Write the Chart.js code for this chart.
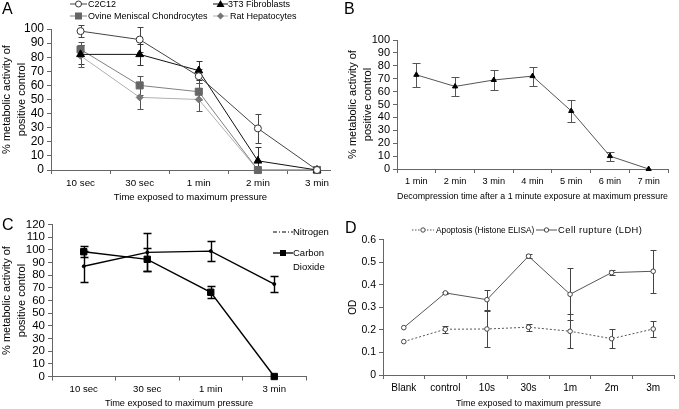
<!DOCTYPE html>
<html>
<head>
<meta charset="utf-8">
<script src="https://cdn.jsdelivr.net/npm/chart.js@4.4.1/dist/chart.umd.min.js"></script>
<style>
  html, body { margin: 0; padding: 0; background: #fff; }
  #wrap { position: relative; width: 679px; height: 409px; overflow: hidden; font-family: "Liberation Sans", Arial, sans-serif; color: #000; }
  canvas { position: absolute; left: 0; top: 0; }
  .letter { position: absolute; font-size: 16px; line-height: 16px; }
  .leg { position: absolute; height: 10px; font-size: 9px; line-height: 10px; white-space: nowrap; display: flex; align-items: center; }
  .leg svg { display: block; }
  .txt { position: absolute; height: 10px; font-size: 9.5px; line-height: 10px; white-space: nowrap; }
</style>
</head>
<body>
<div id="wrap">
  <canvas id="chartA" width="679" height="409"></canvas>
  <canvas id="chartB" width="679" height="409"></canvas>
  <canvas id="chartC" width="679" height="409"></canvas>
  <canvas id="chartD" width="679" height="409"></canvas>

  <div class="letter" style="left:2px;top:1px">A</div>
  <div class="letter" style="left:344px;top:1px">B</div>
  <div class="letter" style="left:2px;top:217px">C</div>
  <div class="letter" style="left:345px;top:220px">D</div>

  <!-- legend A -->
  <div class="leg" style="left:70px;top:-1px"><svg width="17" height="10"><line x1="0" y1="5" x2="17" y2="5" stroke="#444"/><circle cx="8.5" cy="5" r="3" fill="#fff" stroke="#333"/></svg><span style="margin-left:1px">C2C12</span></div>
  <div class="leg" style="left:213px;top:-1px"><svg width="15" height="10"><line x1="0" y1="5" x2="15" y2="5" stroke="#111"/><polygon points="7.5,1 11.5,8 3.5,8" fill="#000"/></svg><span>3T3 Fibroblasts</span></div>
  <div class="leg" style="left:70px;top:11px"><svg width="17" height="10"><line x1="0" y1="5" x2="17" y2="5" stroke="#808080"/><rect x="5" y="1.5" width="7" height="7" fill="#666"/></svg><span style="margin-left:1px">Ovine Meniscal Chondrocytes</span></div>
  <div class="leg" style="left:213px;top:11px"><svg width="15" height="10"><line x1="0" y1="5" x2="15" y2="5" stroke="#b0b0b0"/><polygon points="7.5,1.5 11,5 7.5,8.5 4,5" fill="#777"/></svg><span style="margin-left:2px">Rat Hepatocytes</span></div>

  <!-- legend C -->
  <div class="leg" style="left:273px;top:227px;font-size:9.5px"><svg width="20" height="10"><line x1="0" y1="5" x2="20" y2="5" stroke="#000" stroke-dasharray="4,2,1,2"/></svg><span>Nitrogen</span></div>
  <div class="leg" style="left:273px;top:248px"><svg width="20" height="10"><line x1="0" y1="5" x2="20" y2="5" stroke="#000" stroke-width="1.3"/><rect x="7" y="2" width="6" height="6" fill="#000"/></svg></div>
  <div class="txt" style="left:293px;top:248px">Carbon</div>
  <div class="txt" style="left:293px;top:262px">Dioxide</div>

  <!-- legend D -->
  <div class="leg" style="left:412px;top:225px;font-size:8.3px"><svg width="22" height="10"><line x1="0" y1="5" x2="22" y2="5" stroke="#555" stroke-dasharray="1.5,1.5"/><circle cx="11" cy="5" r="2.2" fill="#fff" stroke="#444"/></svg><span style="margin-left:2px">Apoptosis (Histone ELISA)</span></div>
  <div class="leg" style="left:536px;top:225px;font-size:9.3px"><svg width="21" height="10"><line x1="0" y1="5" x2="21" y2="5" stroke="#555"/><circle cx="10.5" cy="5" r="2.2" fill="#fff" stroke="#444"/></svg><span style="margin-left:1px;letter-spacing:0.5px">Cell rupture (LDH)</span></div>
</div>

<script>
// ---- panel A: cell types, time at max pressure ----
const timesA = ['10 sec', '30 sec', '1 min', '2 min', '3 min'];
const c2c12 = [98.5, 92.5, 66.5, 29.5, 0];
const c2c12Err = [4, 9, 5, 10, 0];
const fibro3t3 = [82, 82, 70.5, 6.5, 0];
const fibro3t3Err = [7, 7.5, 7, 10, 0];
const ovine = [85.5, 60, 55.5, 0, 0];
const ovineErr = [5, 7, 6, 0, 0];
const ratHep = [81, 51.5, 50, 0, 0];
const ratHepErr = [8, 8.5, 8.5, 0, 0];

// ---- panel B: decompression time ----
const decompTimes = ['1 min', '2 min', '3 min', '4 min', '5 min', '6 min', '7 min'];
const decompActivity = [73, 64, 69, 72, 45, 10, 0];
const decompErr = [9.2, 7.7, 7.7, 7.3, 8.6, 3.5, 0];

// ---- panel C: gas type ----
const timesC = ['10 sec', '30 sec', '1 min', '3 min'];
const nitrogen = [87, 98, 99, 73];
const nitrogenErr = [12, 15, 8, 6.6];
const co2 = [98.5, 92.5, 66.5, 0];
const co2Err = [4.5, 9, 4.8, 0];

// ---- panel D: OD ----
const timesD = ['Blank', 'control', '10s', '30s', '1m', '2m', '3m'];
const apoptosis = [0.148, 0.203, 0.204, 0.212, 0.194, 0.161, 0.204];
const apoptosisErr = [0, 0.016, 0.08, 0.015, 0.075, 0.042, 0.036];
const rupture = [0.21, 0.364, 0.334, 0.527, 0.358, 0.454, 0.46];
const ruptureErr = [0, 0.005, 0.045, 0.008, 0.115, 0.012, 0.095];

const FONT = '"Liberation Sans", Arial, sans-serif';
const AXIS = '#666';
const yTitle2 = ['% metabolic activity of', 'positive control'];

// error bars, drawn under the markers
const errorBars = {
  id: 'errorBars',
  beforeDatasetsDraw(chart) {
    const ctx = chart.ctx;
    const yScale = chart.scales.y;
    const area = chart.chartArea;
    ctx.save();
    ctx.beginPath();
    ctx.rect(area.left - 10, area.top - 20, area.right - area.left + 20, area.bottom - area.top + 20);
    ctx.clip();
    chart.data.datasets.forEach((ds, i) => {
      if (!ds.errors) return;
      const meta = chart.getDatasetMeta(i);
      ctx.strokeStyle = ds.errorColor || '#444';
      ctx.lineWidth = ds.errorWidth || 1;
      meta.data.forEach((pt, j) => {
        const err = ds.errors[j];
        if (!err) return;
        const raw = ds.data[j];
        const v = typeof raw === 'object' ? raw.y : raw;
        const top = Math.round(yScale.getPixelForValue(v + err)) + 0.5;
        const bot = Math.min(Math.round(yScale.getPixelForValue(v - err)) + 0.5, area.bottom);
        const x = Math.round(pt.x) + 0.5;
        const cap = ds.capWidth || 3;
        ctx.beginPath();
        ctx.moveTo(x, top); ctx.lineTo(x, bot);
        ctx.moveTo(x - cap, top); ctx.lineTo(x + cap, top);
        if (bot < area.bottom) { ctx.moveTo(x - cap, bot); ctx.lineTo(x + cap, bot); }
        ctx.stroke();
      });
    });
    ctx.restore();
  }
};

function yScale(min, max, step, size, title, titlePad, width, fmt) {
  return {
    min: min, max: max,
    ticks: { stepSize: step, autoSkip: false, font: { size: size, family: FONT }, color: '#000', padding: 3, callback: fmt },
    grid: { display: true, drawOnChartArea: false, color: AXIS, tickLength: 4 },
    border: { color: AXIS },
    title: { display: true, text: title, color: '#000', font: { size: 11, family: FONT, lineHeight: 1.35 }, padding: { top: titlePad, bottom: 0 } },
    afterFit: s => { s.width = width; }
  };
}

function xCategory(size, title, titleSize, height) {
  return {
    type: 'category', offset: true,
    ticks: { autoSkip: false, maxRotation: 0, font: { size: size, family: FONT }, color: '#000', padding: 3 },
    grid: { display: true, offset: true, drawOnChartArea: false, color: AXIS, tickLength: 4 },
    border: { color: AXIS },
    title: { display: true, text: title, color: '#000', font: { size: titleSize, family: FONT }, padding: { top: 0, bottom: 0 } },
    afterFit: s => { s.height = height; }
  };
}

function baseOptions(padding, scales) {
  return {
    responsive: false,
    animation: false,
    layout: { padding: padding },
    plugins: { legend: { display: false }, tooltip: { enabled: false } },
    scales: scales
  };
}

function lineSet(label, values, errors, style) {
  return Object.assign({
    label: label, data: values, errors: errors,
    borderWidth: 1, pointBorderWidth: 1, tension: 0, clip: false
  }, style);
}

const pts = arr => arr.map((v, i) => ({ x: i, y: v }));

// Panel A (linear x so the points sit where the original puts them)
new Chart(document.getElementById('chartA'), {
  type: 'line',
  data: {
    datasets: [
      lineSet('C2C12', pts(c2c12), c2c12Err, { borderColor: '#444', pointStyle: 'circle', pointRadius: 3.5, pointBackgroundColor: '#fff', pointBorderColor: '#333', errorColor: '#444' }),
      lineSet('3T3 Fibroblasts', pts(fibro3t3), fibro3t3Err, { borderColor: '#111', pointStyle: 'triangle', pointRadius: 4.5, pointBackgroundColor: '#000', pointBorderColor: '#000', errorColor: '#333' }),
      lineSet('Ovine Meniscal Chondrocytes', pts(ovine), ovineErr, { borderColor: '#808080', pointStyle: 'rect', pointRadius: 5, pointBackgroundColor: '#666', pointBorderColor: '#666', errorColor: '#555' }),
      lineSet('Rat Hepatocytes', pts(ratHep), ratHepErr, { borderColor: '#b0b0b0', pointStyle: 'rectRot', pointRadius: 3.5, pointBackgroundColor: '#777', pointBorderColor: '#777', errorColor: '#555' })
    ]
  },
  options: baseOptions({ left: 0, top: 29, right: 349, bottom: 206 }, {
    x: {
      type: 'linear', min: -0.5, max: 4.22,
      afterBuildTicks: s => { s.ticks = timesA.map((t, i) => ({ value: i })); },
      ticks: { autoSkip: false, maxRotation: 0, font: { size: 9.8, family: FONT }, color: '#000', padding: 3, callback: v => timesA[v] },
      grid: { display: true, offset: true, drawOnChartArea: false, color: AXIS, tickLength: 4 },
      border: { color: AXIS },
      title: { display: true, text: 'Time exposed to maximum pressure', color: '#000', font: { size: 9.5, family: FONT }, padding: { top: 0, bottom: 0 } },
      afterFit: s => { s.height = 33; }
    },
    y: yScale(0, 100, 10, 12, yTitle2, 0, 51)
  }),
  plugins: [errorBars]
});

// Panel B
new Chart(document.getElementById('chartB'), {
  type: 'line',
  data: {
    labels: decompTimes,
    datasets: [
      lineSet('Decompression', decompActivity, decompErr, { borderColor: '#555', pointStyle: 'triangle', pointRadius: 3, pointBackgroundColor: '#000', pointBorderColor: '#000', errorColor: '#555', capWidth: 4 })
    ]
  },
  options: baseOptions({ left: 341, top: 40, right: 11, bottom: 207 }, {
    x: xCategory(9.2, 'Decompression time after a 1 minute exposure at maximum pressure', 9, 33),
    y: yScale(0, 100, 10, 11, yTitle2, 5, 56)
  }),
  plugins: [errorBars]
});

// Panel C
new Chart(document.getElementById('chartC'), {
  type: 'line',
  data: {
    labels: timesC,
    datasets: [
      lineSet('Nitrogen', nitrogen, nitrogenErr, { borderColor: '#000', borderWidth: 1.4, pointStyle: 'circle', pointRadius: 1.5, pointBackgroundColor: '#000', pointBorderColor: '#000', errorColor: '#000', errorWidth: 1.4, capWidth: 4 }),
      lineSet('Carbon Dioxide', co2, co2Err, { borderColor: '#000', borderWidth: 1.4, pointStyle: 'rect', pointRadius: 4.5, pointBackgroundColor: '#000', pointBorderColor: '#000', errorColor: '#000', errorWidth: 1.4, capWidth: 4 })
    ]
  },
  options: baseOptions({ left: 0, top: 224.5, right: 373, bottom: 0 }, {
    x: xCategory(9.6, 'Time exposed to maximum pressure', 9.2, 32.5),
    y: yScale(0, 120, 10, 11.5, yTitle2, 0, 52)
  }),
  plugins: [errorBars]
});

// Panel D
const dY = yScale(0, 0.6, 0.1, 10.5, 'OD', 7, 43, v => (v === 0 ? '0' : v.toFixed(1)));
dY.title.font = { size: 10, family: FONT };
new Chart(document.getElementById('chartD'), {
  type: 'line',
  data: {
    labels: timesD,
    datasets: [
      lineSet('Apoptosis (Histone ELISA)', apoptosis, apoptosisErr, { borderColor: '#555', borderDash: [2, 2], pointStyle: 'circle', pointRadius: 2.3, pointBackgroundColor: '#fff', pointBorderColor: '#444', errorColor: '#444' }),
      lineSet('Cell rupture (LDH)', rupture, ruptureErr, { borderColor: '#555', pointStyle: 'circle', pointRadius: 2.3, pointBackgroundColor: '#fff', pointBorderColor: '#444', errorColor: '#444' })
    ]
  },
  options: baseOptions({ left: 340, top: 239.7, right: 1, bottom: 0 }, {
    x: xCategory(10, 'Time exposed to maximum pressure', 9, 34),
    y: dY
  }),
  plugins: [errorBars]
});
</script>
</body>
</html>
